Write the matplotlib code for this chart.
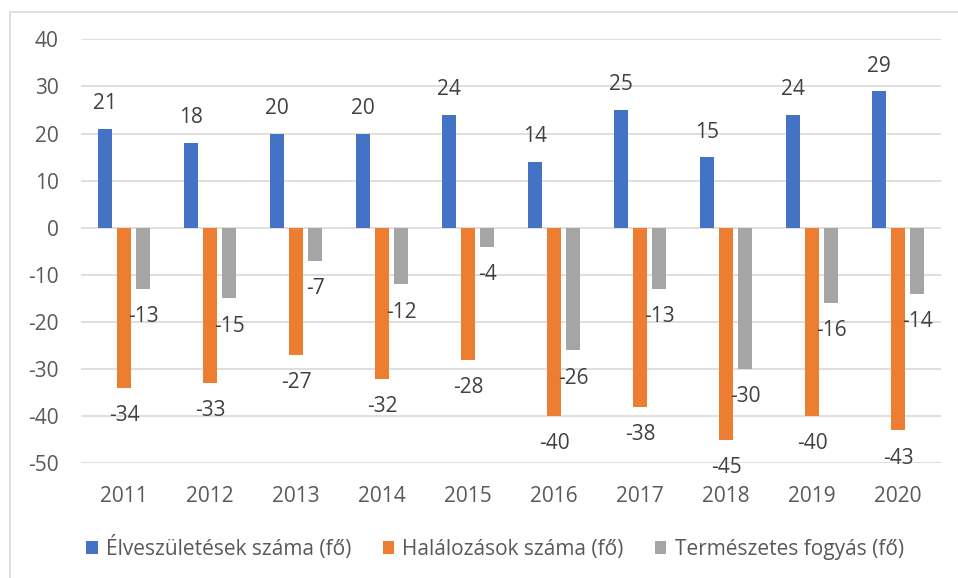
import numpy as np
import matplotlib
matplotlib.use("Agg")
import matplotlib.pyplot as plt
from matplotlib.patches import Rectangle

years = ["2011", "2012", "2013", "2014", "2015", "2016", "2017", "2018", "2019", "2020"]
births = [21, 18, 20, 20, 24, 14, 25, 15, 24, 29]
deaths = [-34, -33, -27, -32, -28, -40, -38, -45, -40, -43]
natural_decrease = [-13, -15, -7, -12, -4, -26, -13, -30, -16, -14]

series_names = ["Élveszületések száma (fő)", "Halálozások száma (fő)", "Természetes fogyás (fő)"]
colors = ["#4472C4", "#ED7D31", "#A5A5A5"]

plt.rcParams["font.family"] = ["Open Sans", "DejaVu Sans"]
plt.rcParams["axes.unicode_minus"] = False
FS = 15

fig = plt.figure(figsize=(9.58, 5.78), dpi=100)
ax = fig.add_axes([81 / 958, 1 - 463.3 / 578, 860 / 958, 424 / 578])

# light chart border (cropped on the right and bottom)
fig.patches.append(Rectangle((10 / 958, -0.1), 1.0, 1 - 12 / 578 + 0.1,
                             transform=fig.transFigure, fill=False,
                             edgecolor="#D9D9D9", linewidth=1.2))

x = np.arange(len(years))
width = 0.174
offset = 0.221

for i, (vals, col) in enumerate(zip([births, deaths, natural_decrease], colors)):
    pos = x + (i - 1) * offset
    ax.bar(pos, vals, width=width, color=col, label=series_names[i], zorder=3)
    # data labels outside bar end
    for xp, v in zip(pos, vals):
        dy = 18 if v > 0 else -20
        ax.annotate(str(v), (xp, v), xytext=(0, dy), textcoords="offset points",
                    ha="center", va="center", fontsize=FS, color="#404040",
                    zorder=4)

ax.set_xlim(-0.5, len(years) - 0.5)
ax.set_ylim(-50, 40)
ax.set_yticks(range(-50, 41, 10))
ax.set_xticks(x)
ax.set_xticklabels(years)
ax.yaxis.grid(True, color="#D9D9D9", linewidth=1.2, zorder=0)
ax.set_axisbelow(True)
for s in ax.spines.values():
    s.set_visible(False)
ax.tick_params(axis="both", length=0, labelsize=FS, labelcolor="#595959")
ax.tick_params(axis="y", pad=16)
ax.tick_params(axis="x", pad=16)

ax.legend(loc="center", bbox_to_anchor=(495 / 958, 1 - 548 / 578),
          bbox_transform=fig.transFigure, ncol=3, frameon=False,
          fontsize=FS, labelcolor="#595959", handlelength=0.55,
          handleheight=0.55, handletextpad=0.4, columnspacing=1.5)

fig.savefig("out.png", dpi=100)
